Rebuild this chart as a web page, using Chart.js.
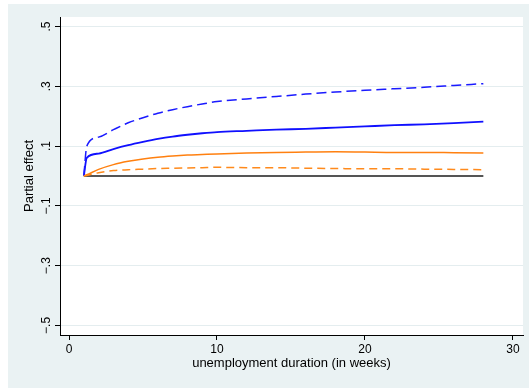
<!DOCTYPE html>
<html>
<head>
<meta charset="utf-8">
<script src="https://cdn.jsdelivr.net/npm/chart.js@4.4.0/dist/chart.umd.min.js"></script>
<style>
html,body{margin:0;padding:0;background:#fff;}
#wrap{position:relative;width:529px;height:388px;}
</style>
</head>
<body>
<div id="wrap"><canvas id="c" width="529" height="388"></canvas></div>
<script>
// ---- data ----
const weeks = [1, 1.2, 2, 3, 4, 5, 6, 7, 8, 9, 10, 12, 14, 16, 18, 20, 22, 24, 26, 28];
const blueSolid = [0, 0.061, 0.075, 0.090, 0.103, 0.114, 0.124, 0.132, 0.138, 0.143, 0.147, 0.151, 0.155, 0.158, 0.162, 0.166, 0.170, 0.173, 0.177, 0.182];
const blueDashed = [0, 0.100, 0.130, 0.155, 0.178, 0.195, 0.210, 0.222, 0.232, 0.241, 0.249, 0.258, 0.266, 0.274, 0.281, 0.287, 0.292, 0.297, 0.303, 0.309];
const orangeSolid = [0, 0.004, 0.022, 0.038, 0.049, 0.057, 0.063, 0.067, 0.070, 0.072, 0.074, 0.077, 0.079, 0.080, 0.081, 0.080, 0.079, 0.079, 0.078, 0.077];
const orangeDashed = [0, 0.002, 0.011, 0.018, 0.021, 0.023, 0.025, 0.026, 0.027, 0.028, 0.029, 0.028, 0.028, 0.026, 0.025, 0.024, 0.024, 0.023, 0.022, 0.021];
const zeroLine = [0, 0, 0, 0, 0, 0, 0, 0, 0, 0, 0, 0, 0, 0, 0, 0, 0, 0, 0, 0];
const yTicks = [-0.5, -0.3, -0.1, 0.1, 0.3, 0.5];
const xTicks = [0, 10, 20, 30];
const xTitle = 'unemployment duration (in weeks)';
const yTitle = 'Partial effect';

const pts = arr => weeks.map((w, i) => ({x: w, y: arr[i]}));

const bgPlugin = {
  id: 'bg',
  beforeDraw(chart) {
    const ctx = chart.ctx, a = chart.chartArea;
    ctx.save();
    ctx.fillStyle = '#ffffff';
    ctx.fillRect(0, 0, chart.width, chart.height);
    ctx.fillStyle = '#EAF2F3';
    ctx.fillRect(8, 4, chart.width - 8, chart.height - 4);
    ctx.fillStyle = '#ffffff';
    ctx.fillRect(a.left, a.top, a.right - a.left, a.bottom - a.top);
    ctx.restore();
  }
};

const fmt = v => {
  const s = Math.abs(v).toFixed(1).replace(/^0/, '');
  return (v < 0 ? '\u2212' : '') + s;
};

const font = {family: "'Liberation Sans', Arial, sans-serif", size: 12};

new Chart(document.getElementById('c'), {
  type: 'line',
  data: {
    datasets: [
      {data: pts(orangeDashed), borderColor: '#ff8a1c', borderWidth: 1.5, borderDash: [8, 5], pointRadius: 0, cubicInterpolationMode: 'monotone'},
      {data: pts(orangeSolid), borderColor: '#ff8010', borderWidth: 1.5, pointRadius: 0, cubicInterpolationMode: 'monotone'},
      {data: pts(blueDashed), borderColor: '#1a1aff', borderWidth: 1.5, borderDash: [10, 5], pointRadius: 0, cubicInterpolationMode: 'monotone'},
      {data: pts(blueSolid), borderColor: '#1010ff', borderWidth: 1.8, pointRadius: 0, cubicInterpolationMode: 'monotone'},
      {data: pts(zeroLine), borderColor: '#555555', borderWidth: 2.2, pointRadius: 0}
    ]
  },
  options: {
    responsive: false,
    animation: false,
    layout: {padding: {left: 0, top: 17, right: 6, bottom: 0}},
    plugins: {legend: {display: false}, tooltip: {enabled: false}},
    scales: {
      x: {
        type: 'linear',
        min: -0.61, max: 30.68,
        afterBuildTicks: s => { s.ticks = xTicks.map(v => ({value: v})); },
        afterFit: s => { s.height = 53; },
        border: {display: true, color: '#000', width: 1},
        grid: {drawOnChartArea: false, drawTicks: true, tickLength: 5, tickColor: '#000'},
        ticks: {font: font, color: '#000', padding: 2, maxRotation: 0, callback: v => String(v)},
        title: {display: true, text: xTitle, font: {family: font.family, size: 13}, color: '#000', padding: {top: 0, bottom: 17}}
      },
      y: {
        type: 'linear',
        min: -0.532, max: 0.532,
        afterBuildTicks: s => { s.ticks = yTicks.map(v => ({value: v})); },
        afterFit: s => { s.width = 60; },
        border: {display: true, color: '#000', width: 1},
        grid: {drawOnChartArea: true, color: '#E4EDEF', lineWidth: 1, drawTicks: true, tickLength: 5, tickColor: '#000'},
        ticks: {font: font, color: '#000', padding: 0, crossAlign: 'center', minRotation: 90, maxRotation: 90, callback: v => fmt(v)},
        title: {display: true, text: yTitle, font: {family: font.family, size: 13}, color: '#000', padding: {top: 22, bottom: 0}}
      }
    }
  },
  plugins: [bgPlugin]
});
</script>
</body>
</html>
